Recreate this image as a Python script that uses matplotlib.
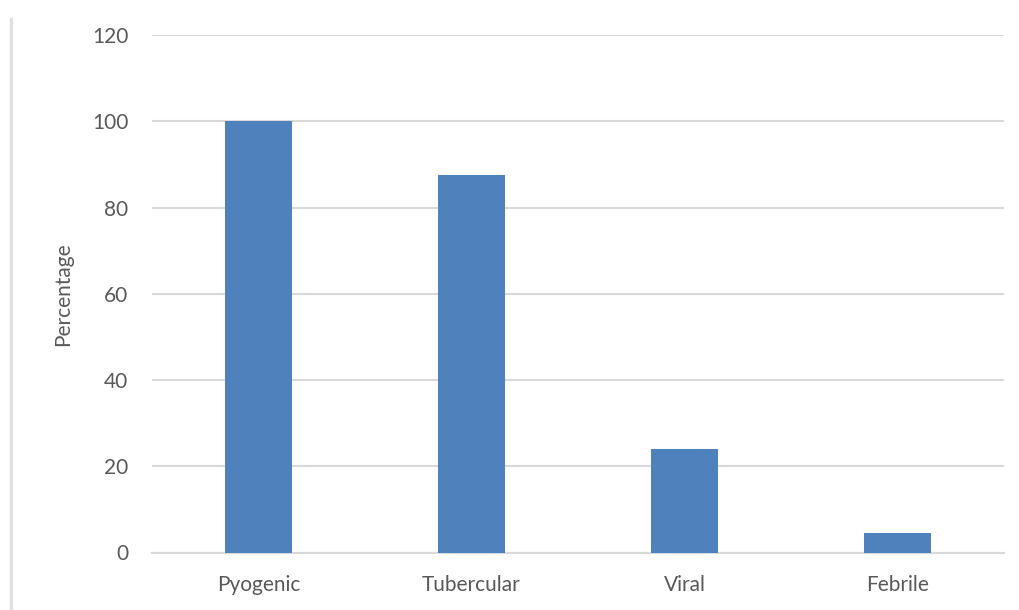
import matplotlib
matplotlib.use("Agg")
import matplotlib.pyplot as plt
from matplotlib.lines import Line2D

categories = ["Pyogenic", "Tubercular", "Viral", "Febrile"]
values = [100, 87.5, 24, 4.6]
yticks = [0, 20, 40, 60, 80, 100, 120]

plt.rcParams['font.family'] = ['Lato', 'DejaVu Sans']
text_color = "#595959"
bar_color = "#4F81BD"
grid_color = "#D9D9D9"

fig = plt.figure(figsize=(10.19, 6.10), dpi=100)
ax = fig.add_axes([152/1019, 1 - 552.5/610, (1004 - 152)/1019, (552.5 - 35)/610])

x = list(range(len(categories)))
ax.bar(x, values, width=0.31, color=bar_color, zorder=3)
ax.set_xlim(-0.5, len(categories) - 0.5)
ax.set_ylim(0, 120)
ax.set_yticks(yticks)
ax.set_xticks(x)
ax.set_xticklabels(categories)
ax.yaxis.grid(True, color=grid_color, linewidth=1.5, zorder=0)
ax.set_axisbelow(True)
for s in ["top", "right", "left"]:
    ax.spines[s].set_visible(False)
ax.spines["bottom"].set_color(grid_color)
ax.spines["bottom"].set_linewidth(1.5)
ax.tick_params(axis="both", length=0, colors=text_color, labelsize=15)
ax.tick_params(axis="y", pad=17)
ax.tick_params(axis="x", pad=16)
ax.set_ylabel("Percentage", color=text_color, fontsize=15)
ax.yaxis.set_label_coords(-(152 - 73) / 852, 0.5)

fig.add_artist(Line2D([11/1019, 11/1019], [0, 1 - 19/610], color="#E0E0E0", linewidth=2.5))

fig.savefig("out.png", dpi=100)
